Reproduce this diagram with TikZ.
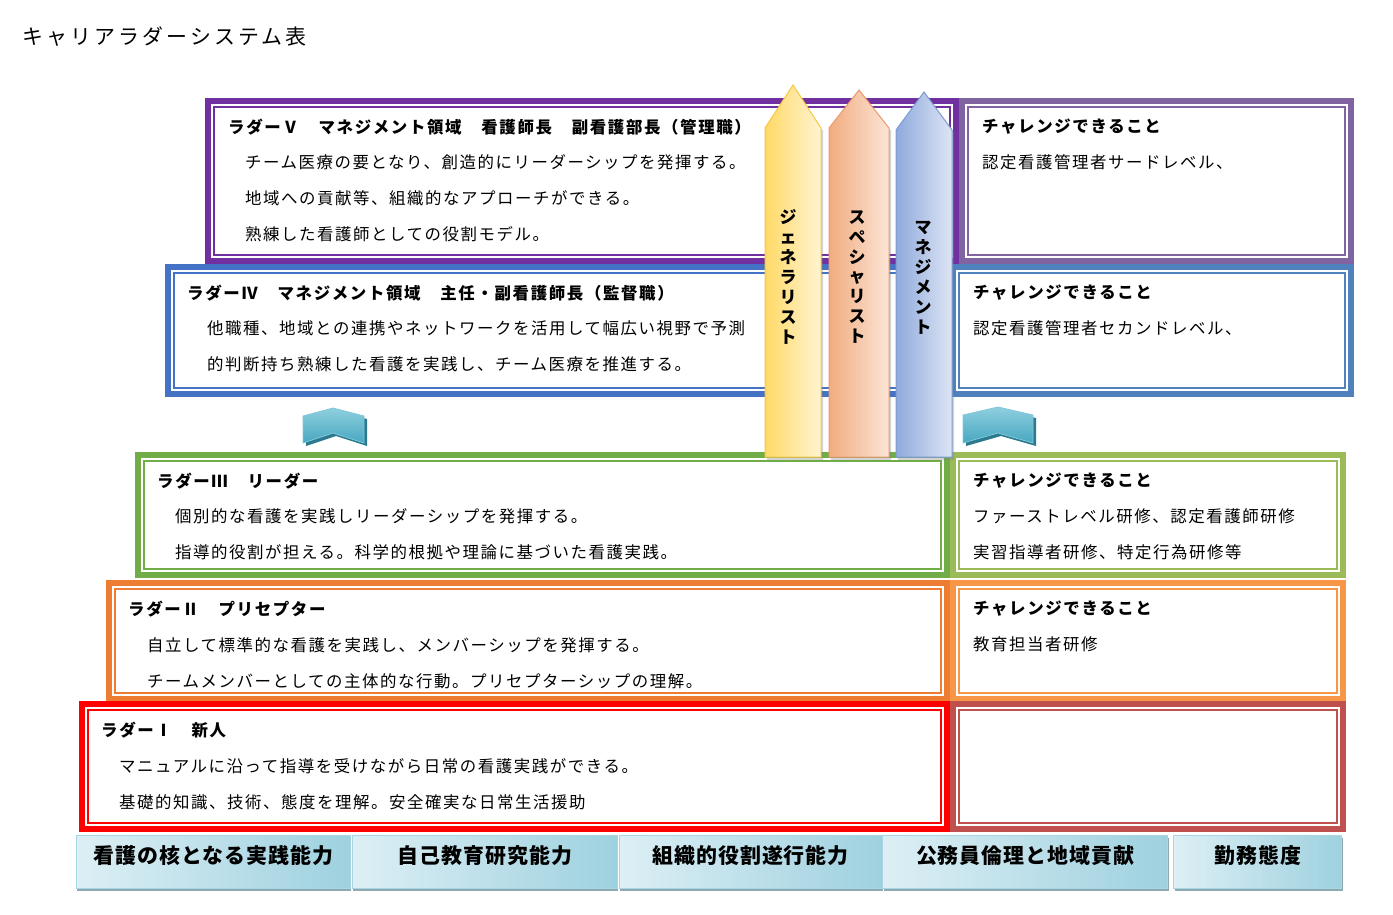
\documentclass[tikz,border=0pt]{standalone}
\usepackage{fontspec}
\setmainfont{Noto Sans CJK JP}
\usetikzlibrary{positioning, shadows}

\definecolor{lad5}{HTML}{7030A0}
\definecolor{ch5}{HTML}{8064A2}
\definecolor{lad4}{HTML}{4472C4}
\definecolor{ch4}{HTML}{4F81BD}
\definecolor{lad3}{HTML}{70AD47}
\definecolor{ch3}{HTML}{9BBB59}
\definecolor{lad2}{HTML}{ED7D31}
\definecolor{ch2}{HTML}{F79646}
\definecolor{lad1}{HTML}{FF0000}
\definecolor{ch1}{HTML}{C0504D}
\definecolor{genL}{HTML}{FFD966}
\definecolor{genR}{HTML}{FFF4D3}
\definecolor{genB}{HTML}{F5C842}
\definecolor{speL}{HTML}{F2AC80}
\definecolor{speR}{HTML}{FBE5D6}
\definecolor{speB}{HTML}{E99A6E}
\definecolor{manL}{HTML}{8FAADC}
\definecolor{manR}{HTML}{DDE5F4}
\definecolor{manB}{HTML}{7C9BD4}
\definecolor{tabL}{HTML}{DDEFF5}
\definecolor{tabR}{HTML}{9ED1DF}
\definecolor{tabB}{HTML}{A9D6E3}
\definecolor{tabS}{HTML}{8FA9B3}
\definecolor{chevT}{HTML}{8FCFDF}
\definecolor{chevB}{HTML}{47A7C0}
\definecolor{chevS}{HTML}{2B7A8F}

% thick-thin frame: x1 y1 x2 y2 colour
\newcommand{\ladframe}[5]{%
    \draw[line width=6bp, #5] ({#1+3},{#2+3}) rectangle ({#3-3},{#4-3});
    \draw[line width=1.6bp, #5] ({#1+9},{#2+9}) rectangle ({#3-9},{#4-9});
}

\tikzset{
    every node/.style={inner sep=0pt},
    sheettitle/.style={anchor=west, font=\fontsize{21}{24}\selectfont\addfontfeatures{LetterSpace=15}},
    ladhead/.style={anchor=west, font=\bfseries\fontsize{16.5}{36}\selectfont\addfontfeatures{LetterSpace=10}},
    ladbody/.style={align=left, font=\fontsize{16.5}{36}\selectfont\addfontfeatures{LetterSpace=9.5}},
    vtext/.style={align=center, font=\bfseries\fontsize{17}{20}\selectfont},
    pillar/.style n args={3}{left color=#1, right color=#2, draw=#3, line width=1bp,
        drop shadow={shadow xshift=2bp, shadow yshift=-3bp, opacity=.35}},
    chevron/.style={top color=chevT, bottom color=chevB, draw=chevT!80!chevB, line width=.8bp,
        drop shadow={shadow xshift=3bp, shadow yshift=-3bp, fill=chevS, opacity=1}},
    tabbox/.style={minimum height=53bp, text depth=14bp, left color=tabL, right color=tabR, draw=tabB, line width=.8bp,
        font=\bfseries\fontsize{21}{24}\selectfont\addfontfeatures{LetterSpace=5},
        drop shadow={shadow xshift=1bp, shadow yshift=-3bp, fill=tabS, opacity=1}},
}

\begin{document}
\begin{tikzpicture}[x=1bp, y=-1bp]
    \useasboundingbox (0,0) rectangle (1393,914);

    \node[sheettitle] (title) at (22,37) {キャリアラダーシステム表};

    % ladder frames
    \ladframe{205}{98}{959}{264}{lad5}
    \ladframe{959}{98}{1354}{264}{ch5}
    \ladframe{165}{264}{950}{397}{lad4}
    \ladframe{950}{264}{1354}{397}{ch4}
    \ladframe{135}{452}{950}{578}{lad3}
    \ladframe{950}{452}{1346}{578}{ch3}
    \ladframe{106}{580}{950}{702}{lad2}
    \ladframe{950}{580}{1346}{702}{ch2}
    \ladframe{79}{701}{950}{832}{lad1}
    \ladframe{950}{701}{1346}{832}{ch1}

    % ladder texts
    \node[ladhead] (lad5) at (228,127) {ラダーⅤ　マネジメント領域　看護師長　副看護部長（管理職）};
    \node[ladbody, below right=19.5bp and 17bp of lad5.south west] (lad5-below) {
        チーム医療の要となり、創造的にリーダーシップを発揮する。\\
        地域への貢献等、組織的なアプローチができる。\\
        熟練した看護師としての役割モデル。};
    \node[ladhead] (lad4) at (187,293) {ラダーⅣ　マネジメント領域　主任・副看護師長（監督職）};
    \node[ladbody, below right=19.5bp and 20bp of lad4.south west] (lad4-below) {
        他職種、地域との連携やネットワークを活用して幅広い視野で予測\\
        的判断持ち熟練した看護を実践し、チーム医療を推進する。};
    \node[ladhead] (lad3) at (157,481) {ラダーⅢ　リーダー};
    \node[ladbody, below right=19.5bp and 18bp of lad3.south west] (lad3-below) {
        個別的な看護を実践しリーダーシップを発揮する。\\
        指導的役割が担える。科学的根拠や理論に基づいた看護実践。};
    \node[ladhead] (lad2) at (128,609) {ラダーⅡ　プリセプター};
    \node[ladbody, below right=20bp and 19bp of lad2.south west] (lad2-below) {
        自立して標準的な看護を実践し、メンバーシップを発揮する。\\
        チームメンバーとしての主体的な行動。プリセプターシップの理解。};
    \node[ladhead] (lad1) at (101,730) {ラダーⅠ　新人};
    \node[ladbody, below right=20bp and 18bp of lad1.south west] (lad1-below) {
        マニュアルに沿って指導を受けながら日常の看護実践ができる。\\
        基礎的知識、技術、態度を理解。安全確実な日常生活援助};

    % challenge texts
    \node[ladhead] (ch5) at (982,127) {チャレンジできること};
    \node[ladbody, below right=19.5bp and 0bp of ch5.south west] (ch5-below) {認定看護管理者サードレベル、};
    \node[ladhead] (ch4) at (973,293) {チャレンジできること};
    \node[ladbody, below right=19.5bp and 0bp of ch4.south west] (ch4-below) {認定看護管理者セカンドレベル、};
    \node[ladhead] (ch3) at (973,481) {チャレンジできること};
    \node[ladbody, below right=19.5bp and 0bp of ch3.south west] (ch3-below) {
        ファーストレベル研修、認定看護師研修\\
        実習指導者研修、特定行為研修等};
    \node[ladhead] (ch2) at (973,609) {チャレンジできること};
    \node[ladbody, below right=20bp and 0bp of ch2.south west] (ch2-below) {教育担当者研修};

    % step-up chevrons
    \draw[chevron] (303,416) -- (333,408) -- (364,416) -- (364,443) -- (333,433) -- (303,443) -- cycle;
    \draw[chevron] (963,415) -- (998,407) -- (1033,415) -- (1033,443) -- (998,433) -- (963,443) -- cycle;

    % career pillars
    \foreach \xa/\xb/\yt/\ys/\cl/\cr/\cb in {765/821/85/128/genL/genR/genB,
                                              829/889/90/128/speL/speR/speB,
                                              896/952/92/130/manL/manR/manB}
        \draw[pillar={\cl}{\cr}{\cb}] (\xa,457) -- (\xa,\ys) -- ({(\xa+\xb)/2},\yt) -- (\xb,\ys) -- (\xb,457) -- cycle;

    \node[vtext] (generalist) at (788,277) {ジ\\ェ\\ネ\\ラ\\リ\\ス\\ト};
    \node[vtext] (specialist) at (857,277) {ス\\ペ\\シ\\ャ\\リ\\ス\\ト};
    \node[vtext] (management) at (923,278) {マ\\ネ\\ジ\\メ\\ン\\ト};

    % ability tabs
    \node[tabbox, minimum width=274bp, anchor=north west] (tab1) at (76,835) {看護の核となる実践能力};
    \node[tabbox, minimum width=265bp, right=1bp of tab1] (tab2) {自己教育研究能力};
    \node[tabbox, minimum width=263bp, right=1bp of tab2] (tab3) {組織的役割遂行能力};
    \node[tabbox, minimum width=285bp, right=0bp of tab3] (tab4) {公務員倫理と地域貢献};
    \node[tabbox, minimum width=168bp, right=5bp of tab4] (tab5) {勤務態度};
\end{tikzpicture}
\end{document}
